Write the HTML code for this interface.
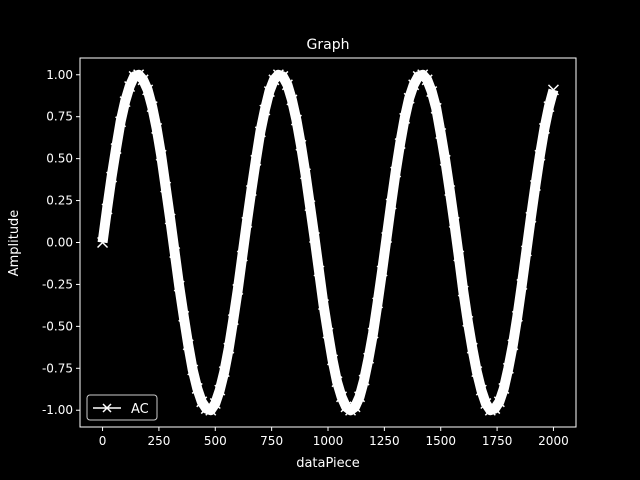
<!DOCTYPE html>
<html><head><meta charset="utf-8"><style>
html,body{margin:0;padding:0;background:#000;}
svg{display:block;font-family:"DejaVu Sans","Liberation Sans",sans-serif;}
</style></head><body>
<svg id="chart" width="640" height="480" viewBox="0 0 640 480">
<rect width="640" height="480" fill="#000"/>
<text x="328" y="49" fill="#fff" font-size="14" text-anchor="middle">Graph</text>
<g id="plot"></g>
<rect x="80" y="58" width="496" height="369" fill="none" stroke="#fff" stroke-width="1"/>
<g id="xticks"></g>
<g id="yticks"></g>
<text x="328" y="467" fill="#fff" font-size="13" text-anchor="middle">dataPiece</text>
<text transform="translate(18,243) rotate(-90)" fill="#fff" font-size="13" text-anchor="middle">Amplitude</text>
<g>
<rect x="87" y="395" width="70" height="25" rx="3" fill="#000" stroke="#ccc" stroke-width="1"/>
<line x1="93" y1="408" x2="121" y2="408" stroke="#fff" stroke-width="1.5"/>
<path d="M103,404 L111,412 M103,412 L111,404" stroke="#fff" stroke-width="1.5"/>
<text x="131" y="413" fill="#fff" font-size="13">AC</text>
</g>
</svg>
<script>
const xValues = [0,20,40,60,80,100,120,140,160,180,200,220,240,260,280,300,320,340,360,380,400,420,440,460,480,500,520,540,560,580,600,620,640,660,680,700,720,740,760,780,800,820,840,860,880,900,920,940,960,980,1000,1020,1040,1060,1080,1100,1120,1140,1160,1180,1200,1220,1240,1260,1280,1300,1320,1340,1360,1380,1400,1420,1440,1460,1480,1500,1520,1540,1560,1580,1600,1620,1640,1660,1680,1700,1720,1740,1760,1780,1800,1820,1840,1860,1880,1900,1920,1940,1960,1980,2000];
const acValues = [0,.20,.39,.56,.72,.84,.93,.99,1.00,.97,.91,.81,.68,.52,.33,.14,-.06,-.26,-.44,-.61,-.76,-.87,-.95,-.99,-1.00,-.96,-.88,-.77,-.63,-.46,-.28,-.08,.12,.31,.49,.66,.79,.90,.97,1.00,.99,.94,.85,.73,.58,.41,.22,.03,-.17,-.37,-.54,-.70,-.83,-.92,-.98,-1.00,-.98,-.92,-.82,-.69,-.54,-.36,-.17,.03,.23,.42,.59,.74,.86,.94,.99,1.00,.97,.90,.80,.65,.49,.31,.12,-.08,-.29,-.47,-.63,-.77,-.88,-.96,-1.00,-.99,-.95,-.87,-.75,-.61,-.44,-.25,-.05,.15,.34,.52,.68,.81,.91];
const xTickValues = [0,250,500,750,1000,1250,1500,1750,2000];
const yTickValues = [-1.00,-0.75,-0.50,-0.25,0.00,0.25,0.50,0.75,1.00];

const NS = "http://www.w3.org/2000/svg";
const X0=80, X1=576, Y0=58, Y1=427, XMIN=-100, XMAX=2100, YMIN=-1.1, YMAX=1.1;
function sx(v){return X0+(v-XMIN)*(X1-X0)/(XMAX-XMIN);}
function sy(v){return Y0+(YMAX-v)*(Y1-Y0)/(YMAX-YMIN);}
function mk(tag,attrs,parent){const e=document.createElementNS(NS,tag);for(const k in attrs)e.setAttribute(k,attrs[k]);parent.appendChild(e);return e;}

const plot=document.getElementById('plot');
let pts=xValues.map((x,i)=>sx(x).toFixed(2)+","+sy(acValues[i]).toFixed(2)).join(" ");
const band=mk('polyline',{points:pts,fill:'none',stroke:'#fff','stroke-width':10,'stroke-linejoin':'round'},plot);


xValues.forEach((x,i)=>{
  const cx=sx(x), cy=sy(acValues[i]);
  const m=mk('path',{d:`M${cx-5},${cy-5} L${cx+5},${cy+5} M${cx-5},${cy+5} L${cx+5},${cy-5}`,stroke:'#fff','stroke-width':1.5},plot);
  
  
});

const xt=document.getElementById('xticks');
xTickValues.forEach(v=>{
  const x=sx(v);
  const l=mk('line',{x1:x,y1:Y1,x2:x,y2:Y1+4,stroke:'#fff'},xt);
  
  
  const t=mk('text',{x:x,y:Y1+18,fill:'#fff','font-size':12,'text-anchor':'middle'},xt);
  t.textContent=String(v);
  
  
});
const yt=document.getElementById('yticks');
yTickValues.forEach(v=>{
  const y=sy(v);
  const l=mk('line',{x1:X0-4,y1:y,x2:X0,y2:y,stroke:'#fff'},yt);
  
  
  const t=mk('text',{x:X0-7,y:y+4,fill:'#fff','font-size':12,'text-anchor':'end'},yt);
  t.textContent=v.toFixed(2);
  
  
});
</script>
</body></html>
